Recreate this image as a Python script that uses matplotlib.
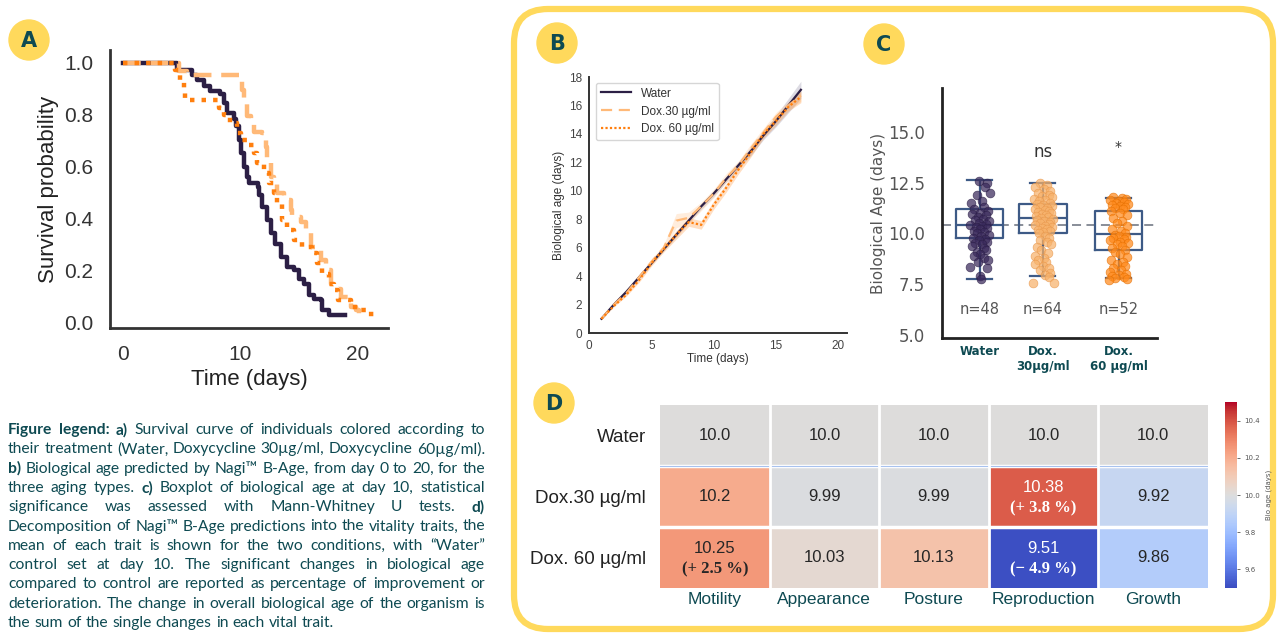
import matplotlib
matplotlib.use("Agg")
import matplotlib.pyplot as plt
from matplotlib.patches import FancyBboxPatch, Circle

# ---- colours
WATER = "#2c1f45"
DOX30 = "#ffb978"
DOX60 = "#ff7f0e"
TEAL = "#0e4a52"
YELLOW = "#ffd95c"
BOXC = "#3d5a86"

# ---- A: survival curves (day, survival)
water_t = [0, 4.33, 4.62, 5.9, 6.33, 6.9, 7.46, 8.32, 8.6, 8.9, 9.46, 9.6, 9.9, 10.03, 10.3, 10.6, 10.77,
           11.48, 11.62, 11.9, 12.3, 12.6, 13.0, 13.44, 14.0, 14.6, 15.0, 15.44, 15.87, 16.3, 16.87, 17.0, 17.6, 18.9]
water_s = [1.0, 1.0, 0.974, 0.955, 0.935, 0.91, 0.89, 0.881, 0.845, 0.806, 0.783, 0.755, 0.703, 0.652, 0.6, 0.561, 0.535,
           0.523, 0.49, 0.445, 0.394, 0.342, 0.303, 0.252, 0.213, 0.2, 0.168, 0.148, 0.103, 0.09, 0.084, 0.045, 0.026, 0.026]
dox30_t = [0, 4.33, 4.76, 5.47, 9.46, 9.9, 10.17, 10.31, 10.6, 10.88, 11.17, 11.88, 12.17, 12.3, 12.6, 12.88, 13.17,
           13.74, 14.3, 14.44, 15.16, 15.6, 16.0, 16.6, 16.87, 17.3, 17.72, 18.3, 18.6, 19.2, 19.43, 19.9, 20.1]
dox30_s = [1.0, 1.0, 0.968, 0.955, 0.955, 0.929, 0.897, 0.845, 0.794, 0.768, 0.735, 0.729, 0.677, 0.626, 0.561, 0.535, 0.497,
           0.471, 0.432, 0.406, 0.387, 0.342, 0.29, 0.277, 0.239, 0.2, 0.148, 0.129, 0.097, 0.084, 0.058, 0.045, 0.026]
dox60_t = [0, 4.33, 4.47, 4.9, 5.19, 5.33, 7.75, 8.18, 8.6, 9.17, 9.74, 10.03, 10.74, 11.17, 11.45, 12.0, 12.45,
           12.87, 13.16, 13.6, 14.0, 14.6, 15.3, 16.15, 16.58, 17.0, 17.58, 18.0, 18.3, 19.43, 20.14, 20.85, 21.57]
dox60_s = [1.0, 1.0, 0.974, 0.929, 0.897, 0.858, 0.858, 0.826, 0.8, 0.768, 0.729, 0.703, 0.684, 0.652, 0.613, 0.574, 0.535,
           0.497, 0.458, 0.394, 0.355, 0.316, 0.29, 0.265, 0.226, 0.187, 0.148, 0.123, 0.084, 0.058, 0.045, 0.032, 0.026]

# ---- B: biological age over time
days_b = [1, 2, 3, 4, 5, 6, 7, 8, 9, 10, 11, 12, 13, 14, 15, 16, 17]
water_b = [1.0, 2.0, 2.9, 3.9, 4.9, 5.9, 6.9, 7.9, 8.9, 9.8, 10.8, 11.8, 12.8, 13.9, 14.9, 16.0, 17.1]
dox30_b = [1.0, 2.0, 2.8, 3.9, 5.0, 6.0, 7.9, 8.1, 8.9, 9.8, 10.9, 11.8, 13.0, 14.1, 15.2, 16.0, 16.7]
dox60_b = [1.0, 1.9, 2.7, 3.7, 4.9, 5.9, 6.9, 7.8, 7.6, 9.0, 10.2, 11.5, 12.7, 14.0, 14.9, 15.9, 16.6]
water_ci = [0.05, 0.05, 0.1, 0.1, 0.1, 0.1, 0.15, 0.15, 0.2, 0.2, 0.2, 0.25, 0.3, 0.3, 0.4, 0.5, 0.6]
dox30_ci = [0.05, 0.05, 0.1, 0.15, 0.2, 0.2, 0.5, 0.4, 0.3, 0.3, 0.3, 0.3, 0.3, 0.3, 0.3, 0.3, 0.4]
dox60_ci = [0.05, 0.05, 0.1, 0.15, 0.2, 0.2, 0.3, 0.3, 0.3, 0.3, 0.3, 0.3, 0.3, 0.3, 0.3, 0.3, 0.4]

# ---- C: biological age at day 10
groups_c = ["Water", "Dox.\n30µg/ml", "Dox.\n60 µg/ml"]
n_c = ["n=48", "n=64", "n=52"]
sig_c = ["", "ns", "*"]
stats_c = [  # q1, median, q3, whisker low, whisker high
    (9.78, 10.42, 11.2, 7.76, 12.63),
    (10.02, 10.76, 11.45, 7.9, 12.49),
    (9.19, 9.97, 11.1, 7.8, 11.75),
]
ref_line = 10.42
water_pts = [12.6, 12.5, 12.3, 12.0, 11.9, 11.6, 11.5, 11.3, 11.2, 11.1, 11.0, 10.95, 10.9, 10.8, 10.7, 10.65,
             10.6, 10.5, 10.45, 10.4, 10.35, 10.3, 10.25, 10.2, 10.1, 10.05, 10.0, 9.95, 9.9, 9.8, 9.75, 9.7,
             9.6, 9.55, 9.5, 9.4, 9.3, 9.2, 9.1, 9.0, 8.9, 8.8, 8.7, 8.6, 8.35, 8.3, 7.9, 7.76]
water_jit = [-0.02, 0.12, 0.08, 0.16, -0.05, 0.03, -0.14, 0.07, -0.09, 0.13, 0.01, -0.12, 0.1, -0.03, 0.05, -0.08,
             0.15, -0.01, 0.09, -0.15, 0.04, -0.06, 0.11, 0.0, -0.1, 0.06, -0.04, 0.14, 0.02, -0.11, 0.08, -0.02,
             0.12, -0.07, 0.03, -0.13, 0.06, 0.1, -0.05, 0.01, -0.09, 0.07, 0.13, -0.03, -0.16, 0.11, 0.0, 0.02]
dox30_pts = [12.5, 12.4, 12.3, 12.2, 12.1, 12.0, 11.9, 11.85, 11.8, 11.7, 11.65, 11.6, 11.5, 11.45, 11.4, 11.35,
             11.3, 11.25, 11.2, 11.15, 11.1, 11.05, 11.0, 10.95, 10.9, 10.85, 10.8, 10.75, 10.7, 10.65, 10.6, 10.55,
             10.5, 10.45, 10.4, 10.35, 10.3, 10.25, 10.2, 10.15, 10.1, 10.05, 10.0, 9.9, 9.8, 9.7, 9.6, 9.5,
             9.35, 9.2, 9.05, 8.9, 8.8, 8.7, 8.6, 8.5, 8.4, 8.3, 8.2, 8.05, 7.95, 7.85, 7.55, 7.55]
dox30_jit = [-0.05, 0.06, -0.12, 0.02, 0.12, -0.08, 0.09, -0.02, 0.15, -0.14, 0.04, -0.06, 0.11, -0.1, 0.0, 0.14,
             -0.04, 0.07, -0.13, 0.03, 0.1, -0.07, 0.13, -0.01, 0.05, -0.11, 0.08, -0.03, 0.16, -0.09, 0.01, 0.12,
             -0.05, 0.09, -0.12, 0.04, 0.14, -0.02, 0.07, -0.08, 0.11, 0.0, -0.06, 0.03, 0.1, -0.04, 0.06, 0.13,
             -0.1, -0.03, 0.08, -0.12, 0.02, -0.07, 0.05, -0.13, 0.0, 0.09, -0.05, 0.12, 0.04, 0.1, -0.16, 0.17]
dox60_pts = [11.8, 11.75, 11.7, 11.65, 11.6, 11.55, 11.5, 11.45, 11.4, 11.35, 11.3, 11.25, 11.2, 11.1, 11.0, 10.9,
             10.75, 10.6, 10.5, 10.35, 10.2, 10.1, 10.0, 9.95, 9.9, 9.85, 9.8, 9.75, 9.7, 9.6, 9.55, 9.5,
             9.4, 9.3, 9.2, 9.1, 9.0, 8.85, 8.7, 8.6, 8.5, 8.4, 8.3, 8.2, 8.1, 8.0, 7.95, 7.9, 7.85, 7.8, 7.75, 7.7]
dox60_jit = [-0.08, 0.05, 0.12, -0.13, 0.0, 0.09, -0.04, 0.15, -0.1, 0.03, 0.11, -0.06, 0.07, -0.12, 0.02, 0.13,
             -0.09, 0.06, -0.02, 0.14, -0.11, 0.04, 0.1, -0.05, 0.01, 0.12, -0.08, 0.08, -0.14, 0.03, 0.15, -0.03,
             0.06, -0.1, 0.11, -0.06, 0.02, 0.13, -0.12, 0.07, -0.02, 0.1, -0.08, 0.04, -0.13, 0.12, 0.0, -0.11,
             0.09, -0.05, 0.14, -0.15]

# ---- D: trait decomposition
rows_d = ["Water", "Dox.30 µg/ml", "Dox. 60 µg/ml"]
cols_d = ["Motility", "Appearance", "Posture", "Reproduction", "Growth"]
water_d = [10.0, 10.0, 10.0, 10.0, 10.0]
dox30_d = [10.2, 9.99, 9.99, 10.38, 9.92]
dox60_d = [10.25, 10.03, 10.13, 9.51, 9.86]
dox30_pct = ["", "", "", "(+ 3.8 %)", ""]
dox60_pct = ["(+ 2.5 %)", "", "", "(− 4.9 %)", ""]

caption = [
    "**Figure legend: a)** Survival curve of individuals colored according to",
    "their treatment (Water, Doxycycline 30µg/ml, Doxycycline 60µg/ml).",
    "**b)** Biological age predicted by Nagi™ B-Age, from day 0 to 20, for the",
    "three aging types. **c)** Boxplot of biological age at day 10, statistical",
    "significance was assessed with Mann-Whitney U tests. **d)**",
    "Decomposition of Nagi™ B-Age predictions into the vitality traits, the",
    "mean of each trait is shown for the two conditions, with “Water”",
    "control set at day 10. The significant changes in biological age",
    "compared to control are reported as percentage of improvement or",
    "deterioration. The change in overall biological age of the organism is",
    "the sum of the single changes in each vital trait.",
]

W, H = 1277, 633
fig = plt.figure(figsize=(W / 100, H / 100), dpi=100)


def px_axes(l, t, r, b):
    return fig.add_axes([l / W, 1 - b / H, (r - l) / W, (b - t) / H])


# background layer in pixel coordinates
bg = fig.add_axes([0, 0, 1, 1], zorder=-1)
bg.set_xlim(0, W)
bg.set_ylim(H, 0)
bg.axis("off")
bg.add_patch(FancyBboxPatch((514, 9), 759, 620, boxstyle="round,pad=0,rounding_size=34",
                            fill=False, ec=YELLOW, lw=4.5))
for lab, cx, cy in [("A", 29, 40), ("B", 557, 43), ("C", 884, 44), ("D", 554, 403)]:
    bg.add_patch(Circle((cx, cy), 20, color=YELLOW))
    bg.text(cx, cy + 1, lab, ha="center", va="center", fontsize=15, fontweight="bold", color=TEAL,
            family="DejaVu Sans")

# ---------------- A
axA = px_axes(110, 50, 388, 328)
axA.step(water_t, water_s, where="post", color=WATER, lw=3.2)
axA.step(dox30_t, dox30_s, where="post", color=DOX30, lw=3.2, linestyle=(0, (4, 2.2)))
axA.step(dox60_t, dox60_s, where="post", color=DOX60, lw=3.2, linestyle=(0, (1, 1.6)))
axA.set_xlim(-1.1, 22.6)
axA.set_ylim(-0.023, 1.05)
axA.set_xticks([0, 10, 20])
axA.set_yticks([0, 0.2, 0.4, 0.6, 0.8, 1.0])
axA.set_yticklabels(["0.0", "0.2", "0.4", "0.6", "0.8", "1.0"])
axA.tick_params(length=0, labelsize=15, colors="#333333", pad=12)
for lab in axA.get_xticklabels() + axA.get_yticklabels():
    lab.set_family("Liberation Sans")
axA.set_xlabel("Time (days)", fontsize=16, color="#222222", family="Liberation Sans", labelpad=4)
axA.set_ylabel("Survival probability", fontsize=16, color="#222222", family="Liberation Sans", labelpad=4)
for s in ["top", "right"]:
    axA.spines[s].set_visible(False)
for s in ["left", "bottom"]:
    axA.spines[s].set_linewidth(2)
    axA.spines[s].set_color("#333333")

# ---------------- B
axB = px_axes(589, 77, 847, 333)
for vals, ci, col in [(water_b, water_ci, "#7a7392"), (dox30_b, dox30_ci, DOX30), (dox60_b, dox60_ci, DOX60)]:
    axB.fill_between(days_b, [v - c for v, c in zip(vals, ci)], [v + c for v, c in zip(vals, ci)],
                     color=col, alpha=0.25, lw=0)
axB.plot(days_b, water_b, color=WATER, lw=1.6, label="Water")
axB.plot(days_b, dox30_b, color=DOX30, lw=1.6, linestyle=(0, (5, 3)), label="Dox.30 µg/ml")
axB.plot(days_b, dox60_b, color=DOX60, lw=1.6, linestyle=(0, (1, 1)), label="Dox. 60 µg/ml")
axB.set_xlim(0, 20.7)
axB.set_ylim(0, 18)
axB.set_xticks([0, 5, 10, 15, 20])
axB.set_yticks(range(0, 19, 2))
axB.tick_params(length=0, labelsize=8.5, colors="#444444", pad=5)
for lab in axB.get_xticklabels() + axB.get_yticklabels():
    lab.set_family("Liberation Sans")
axB.set_xlabel("Time (days)", fontsize=8.5, color="#333333", family="Liberation Sans", labelpad=1)
axB.set_ylabel("Biological age (days)", fontsize=8.5, color="#333333", family="Liberation Sans", labelpad=3)
for s in ["top", "right"]:
    axB.spines[s].set_visible(False)
for s in ["left", "bottom"]:
    axB.spines[s].set_linewidth(1.4)
    axB.spines[s].set_color("#333333")
leg = axB.legend(loc="upper left", bbox_to_anchor=(0.027, 0.977), borderaxespad=0,
                 handlelength=2.6, frameon=True, fancybox=True, edgecolor="#cccccc",
                 prop={"family": "Liberation Sans", "size": 8.5})
for t in leg.get_texts():
    t.set_color("#333333")

# ---------------- C
axC = px_axes(942, 88, 1157, 338)
pos_c = [0, 1, 2.2]
axC.axhline(ref_line, color="#7f8590", lw=1.3, ls=(0, (5, 3)), zorder=1)
bstats = [{"q1": q1, "med": md, "q3": q3, "whislo": lo, "whishi": hi, "fliers": []}
          for q1, md, q3, lo, hi in stats_c]
props = dict(color=BOXC, lw=1.6)
axC.bxp(bstats, positions=pos_c, widths=0.75, showfliers=False, boxprops=props, medianprops=props,
        whiskerprops=props, capprops=props, capwidths=0.4, zorder=2)
for p, pts, jit, col, ec in [(pos_c[0], water_pts, water_jit, "#3a2a5c", "#2a1d45"),
                              (pos_c[1], dox30_pts, dox30_jit, "#f7b26b", "#e8964a"),
                              (pos_c[2], dox60_pts, dox60_jit, "#ff8a1c", "#e56f00")]:
    axC.scatter([p + j for j in jit], pts, s=40, color=col, edgecolor=ec, lw=0.5, alpha=0.72, zorder=3)
for p, n, sg in zip(pos_c, n_c, sig_c):
    axC.text(p, 6.23, n, ha="center", va="center", fontsize=10.5, color="#555555", family="DejaVu Sans")
    if sg == "ns":
        axC.text(p, 14.0, sg, ha="center", va="center", fontsize=12, color="#333333", family="DejaVu Sans")
    elif sg:
        axC.text(p, 14.25, sg, ha="center", va="center", fontsize=10, color="#333333", family="DejaVu Sans")
axC.set_xlim(-0.6, 2.81)
axC.set_ylim(4.85, 17.17)
axC.set_yticks([5.0, 7.5, 10.0, 12.5, 15.0])
axC.set_yticklabels(["5.0", "7.5", "10.0", "12.5", "15.0"])
axC.set_xticks(pos_c)
axC.set_xticklabels(groups_c, fontsize=8.5, fontweight="bold", color=TEAL, family="DejaVu Sans")
axC.tick_params(axis="y", length=0, labelsize=12, labelcolor="#555555", pad=12)
axC.tick_params(axis="x", length=0, pad=5)
axC.set_ylabel("Biological Age (days)", fontsize=11, color="#555555", family="DejaVu Sans", labelpad=2)
for s in ["top", "right"]:
    axC.spines[s].set_visible(False)
for s in ["left", "bottom"]:
    axC.spines[s].set_linewidth(2)
    axC.spines[s].set_color("#222222")

# ---------------- D
axD = px_axes(660, 405, 1208, 588)
data_d = [water_d, dox30_d, dox60_d]
pct_d = [["", "", "", "", ""], dox30_pct, dox60_pct]
im = axD.imshow(data_d, cmap="coolwarm", vmin=9.5, vmax=10.5, aspect="auto")
for i in range(len(rows_d) - 1):
    axD.axhline(i + 0.5, color="white", lw=2.5)
axD.axhline(0.5, color="#a8c2ee", lw=0.8)
for j in range(len(cols_d) - 1):
    axD.axvline(j + 0.5, color="white", lw=2)
for i, row in enumerate(data_d):
    for j, v in enumerate(row):
        dark = v > 10.3 or v < 9.65
        c = "white" if dark else "#262626"
        txt = f"{v:.1f}" if i == 0 else f"{v:g}"
        if pct_d[i][j]:
            axD.text(j, i - 0.15, txt, ha="center", va="center", fontsize=12, color=c, family="Liberation Sans")
            axD.text(j, i + 0.2, pct_d[i][j], ha="center", va="center", fontsize=12, color=c,
                     fontweight="bold", family="Liberation Serif")
        else:
            axD.text(j, i, txt, ha="center", va="center", fontsize=12, color=c, family="Liberation Sans")
axD.set_xticks(range(len(cols_d)))
axD.set_xticklabels(cols_d, fontsize=12.5, color=TEAL, family="Liberation Sans")
axD.set_yticks(range(len(rows_d)))
axD.set_yticklabels(rows_d, fontsize=13.5, color="#222222", family="Liberation Sans")
axD.tick_params(axis="x", length=0, pad=3)
axD.tick_params(axis="y", length=0, pad=10)
for s in axD.spines.values():
    s.set_visible(False)
cax = px_axes(1225, 402, 1237, 588)
cb = fig.colorbar(im, cax=cax)
cb.outline.set_visible(False)
cb.set_ticks([9.6, 9.8, 10.0, 10.2, 10.4])
cb.ax.tick_params(labelsize=5, length=2, width=0.6, colors="#555555")
cb.set_label("Bio age (days)", fontsize=5, color="#555555")

# ---------------- caption (justified)
renderer = fig.canvas.get_renderer()


def parse(line):
    words, bold = [], False
    for w in line.split(" "):
        if w.startswith("**"):
            bold = True
            w = w[2:]
        end = w.endswith("**")
        if end:
            w = w[:-2]
        words.append((w, bold))
        if end:
            bold = False
    return words


def make_words(line, size, y):
    objs = []
    for w, b in parse(line):
        objs.append(bg.text(0, y, w, fontsize=size, fontweight="bold" if b else "normal",
                            color=TEAL, family="Lato", va="center", ha="left"))
    return objs


x0, x1 = 8, 485
# fit font size so the second (naturally full) line spans the column
probe = make_words(caption[1], 10, -100)
ws = [t.get_window_extent(renderer).width for t in probe]
space10 = 10 * 100 / 72 * 0.26
size = 10 * (x1 - x0) / (sum(ws) + space10 * (len(ws) - 1))
for t in probe:
    t.remove()

for i, line in enumerate(caption):
    y = 430 + 19.3 * i
    objs = make_words(line, size, y)
    widths = [t.get_window_extent(renderer).width for t in objs]
    if i < len(caption) - 1 and len(objs) > 1:
        gap = (x1 - x0 - sum(widths)) / (len(objs) - 1)
    else:
        gap = size * 100 / 72 * 0.26
    x = x0
    for t, w in zip(objs, widths):
        t.set_x(x)
        x += w + gap

fig.savefig("out.png", dpi=100)
